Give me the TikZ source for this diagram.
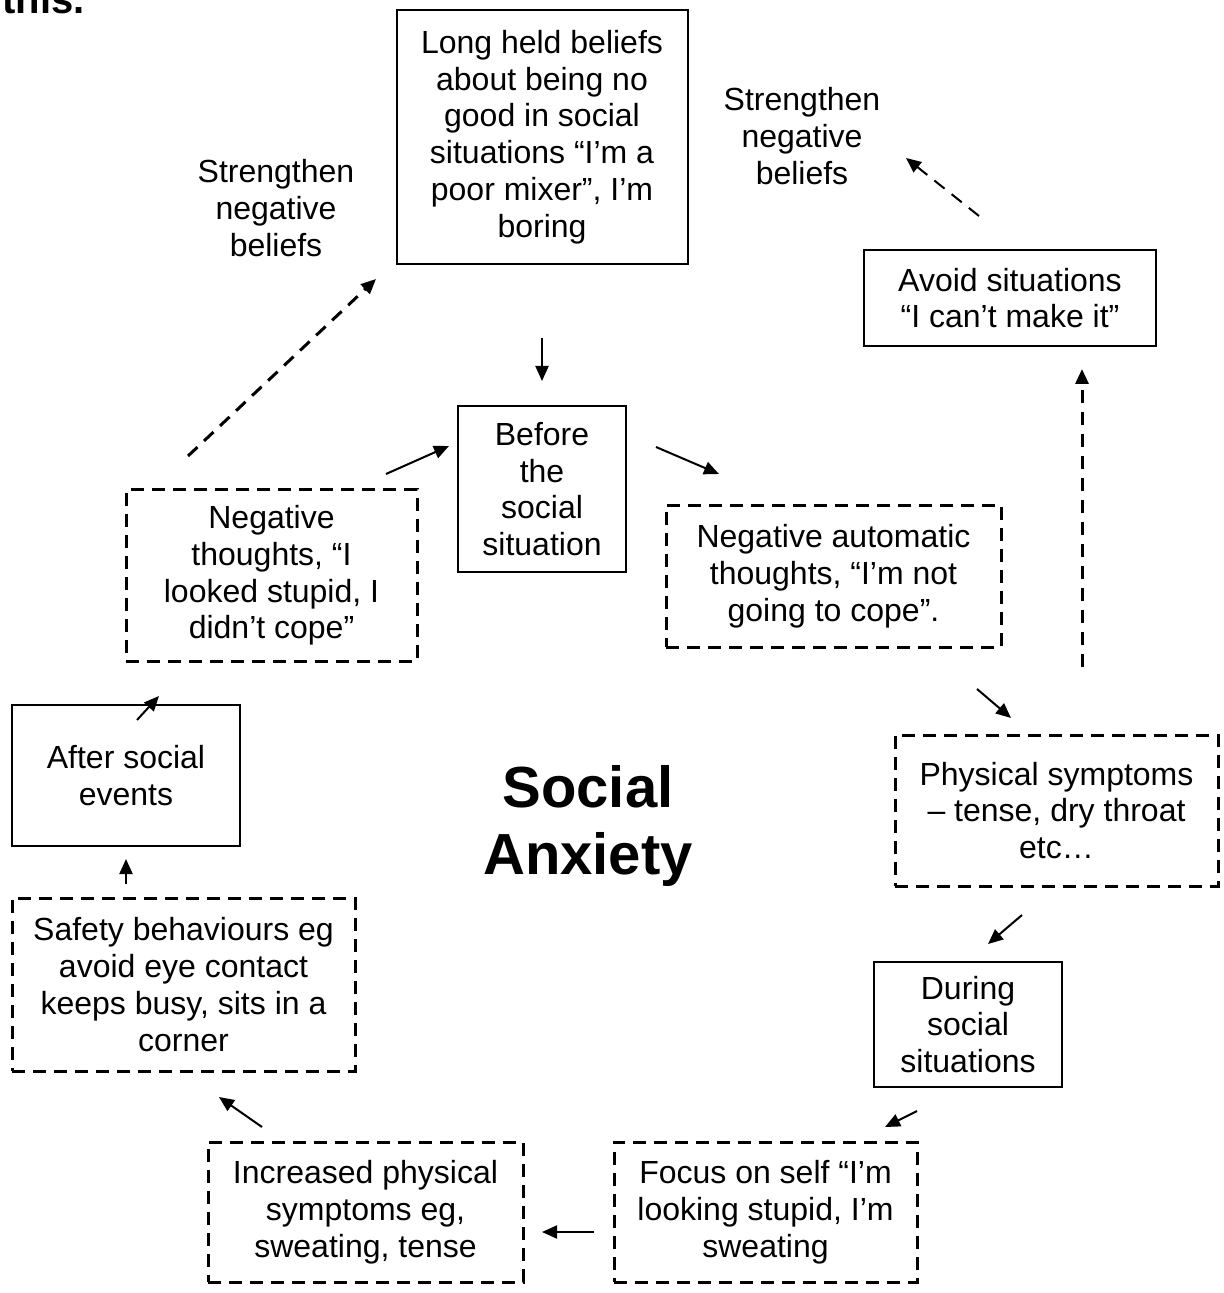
\documentclass[tikz,border=0pt]{standalone}
\usepackage{fontspec}
\setmainfont{Liberation Sans}
\usetikzlibrary{arrows.meta}

\begin{document}
\begin{tikzpicture}[x=0.5pt,y=-0.5pt,>={Triangle[length=7.5pt,width=6.5pt]},
    txt/.style={align=center,inner sep=0pt,font=\fontsize{16}{18.4}\selectfont},
    solidbox/.style={txt,draw,line width=1pt},
    dashbox/.style={txt,draw,line width=1.5pt,dash pattern=on 6.5pt off 4pt},
    arr/.style={->,line width=1pt},
    dasharr/.style={->,line width=1.5pt,dash pattern=on 6.5pt off 4.5pt}]

  \useasboundingbox (0,0) rectangle (1223,1293);

  % heading cut off at the top of the page
  \node[anchor=base west,inner sep=0pt,font=\fontsize{20}{24}\selectfont\bfseries]
    (head) at (2,14) {this.};

  % boxes
  \node[solidbox,minimum width=145.5pt,minimum height=127pt] (beliefs) at (542,137)
    {Long held beliefs\\about being no\\good in social\\situations “I’m a\\poor mixer”, I’m\\boring};
  \node[solidbox,minimum width=146pt,minimum height=48pt] (avoid) at (1010,298)
    {Avoid situations\\“I can’t make it”};
  \node[solidbox,minimum width=84pt,minimum height=83pt] (before) at (542,489)
    {Before\\the\\social\\situation};
  \node[dashbox,minimum width=167.5pt,minimum height=71pt] (negauto) at (833.5,576)
    {Negative automatic\\thoughts, “I’m not\\going to cope”.};
  \node[dashbox,minimum width=145.5pt,minimum height=85.5pt] (negafter) at (271.5,575.5)
    {Negative\\thoughts, “I\\looked stupid, I\\didn’t cope”};
  \node[solidbox,minimum width=114pt,minimum height=70.5pt] (after) at (126,775.5)
    {After social\\events};
  \node[dashbox,minimum width=161.5pt,minimum height=75.5pt] (physical) at (1056.5,810.5)
    {Physical symptoms\\– tense, dry throat\\etc…};
  \node[dashbox,minimum width=171.5pt,minimum height=86.5pt] (safety) at (183.5,984.5)
    {Safety behaviours eg\\avoid eye contact\\keeps busy, sits in a\\corner};
  \node[solidbox,minimum width=94pt,minimum height=62.5pt] (during) at (968,1024.5)
    {During\\social\\situations};
  \node[dashbox,minimum width=157.5pt,minimum height=70pt] (increased) at (365.5,1212)
    {Increased physical\\symptoms eg,\\sweating, tense};
  \node[dashbox,minimum width=151.5pt,minimum height=70pt] (focus) at (765.5,1212)
    {Focus on self “I’m\\looking stupid, I’m\\sweating};

  % free labels
  \node[txt] (strengthL) at (276,208) {Strengthen\\negative\\beliefs};
  \node[txt] (strengthR) at (802,136) {Strengthen\\negative\\beliefs};
  \node[align=center,inner sep=0pt,font=\fontsize{29}{33.5}\selectfont\bfseries]
    (title) at (588,826) {Social\\Anxiety};

  % arrow ends
  \coordinate (a1s) at (542,338);   \coordinate (a1e) at (542,381);
  \coordinate (a2s) at (386,474);   \coordinate (a2e) at (449,446);
  \coordinate (a3s) at (656,447);   \coordinate (a3e) at (719,474);
  \coordinate (a4s) at (977,689);   \coordinate (a4e) at (1011,718);
  \coordinate (a5s) at (1082,667);  \coordinate (a5e) at (1082,369);
  \coordinate (a6s) at (979,216);   \coordinate (a6e) at (906,158);
  \coordinate (a7s) at (1022,915);  \coordinate (a7e) at (988,944);
  \coordinate (a8s) at (917,1111);  \coordinate (a8e) at (885,1127);
  \coordinate (a9s) at (594,1232);  \coordinate (a9e) at (542,1232);
  \coordinate (a10s) at (262,1127); \coordinate (a10e) at (219,1097);
  \coordinate (a11s) at (126,884);  \coordinate (a11e) at (126,859);
  \coordinate (a12s) at (137,720);  \coordinate (a12e) at (159,696);
  \coordinate (a13s) at (188,456);  \coordinate (a13e) at (376,279);

  % connectors
  \draw[arr] (a1s) -- (a1e);
  \draw[arr] (a2s) -- (a2e);
  \draw[arr] (a3s) -- (a3e);
  \draw[arr] (a4s) -- (a4e);
  \draw[dasharr] (a5s) -- (a5e);
  \draw[dasharr,line width=1pt] (a6s) -- (a6e);
  \draw[arr] (a7s) -- (a7e);
  \draw[arr] (a8s) -- (a8e);
  \draw[arr] (a9s) -- (a9e);
  \draw[arr] (a10s) -- (a10e);
  \draw[arr] (a11s) -- (a11e);
  \draw[arr] (a12s) -- (a12e);
  \draw[dasharr] (a13s) -- (a13e);
\end{tikzpicture}
\end{document}
